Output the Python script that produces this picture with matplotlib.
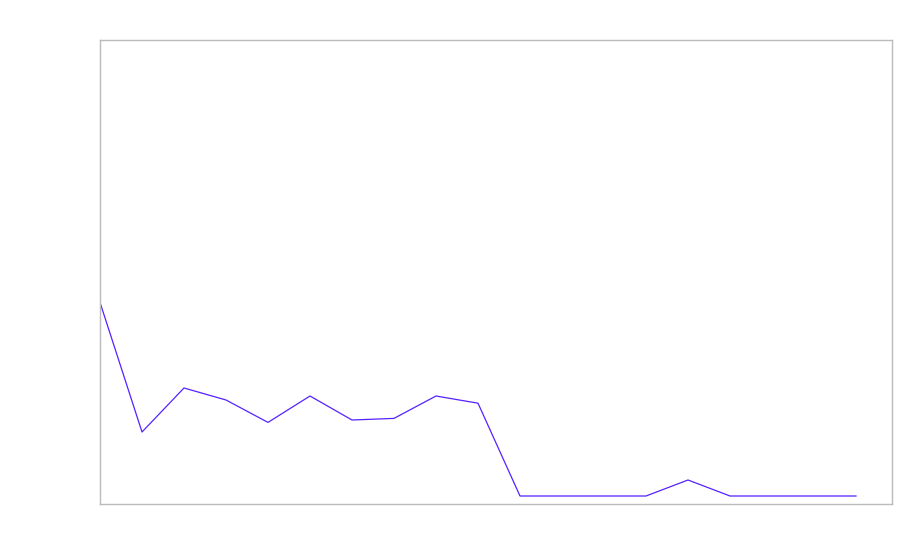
import matplotlib
matplotlib.use("Agg")
import matplotlib.pyplot as plt

# ── Data ────────────────────────────────────────────────────────────────────
steps  = list(range(19))
values = [25.2, 9.0, 14.5, 13.0, 10.2, 13.5, 10.5, 10.7, 13.5, 12.6,
          1.0, 1.0, 1.0, 1.0, 3.0, 1.0, 1.0, 1.0, 1.0]

LINE  = "#5522ff"
FRAME = "#bbbbbb"

fig = plt.figure(figsize=(9, 5.6), dpi=100)
ax = fig.add_axes([100 / 900, 1 - 504 / 560, 792 / 900, 464 / 560])

ax.plot(steps, values, color=LINE, linewidth=0.9)
ax.set_xlim(0, 792 / 42)
ax.set_ylim(0, 58)

ax.set_xticks([])
ax.set_yticks([])
for sp in ax.spines.values():
    sp.set_color(FRAME)
    sp.set_linewidth(1)

fig.savefig("out.png", dpi=100)
